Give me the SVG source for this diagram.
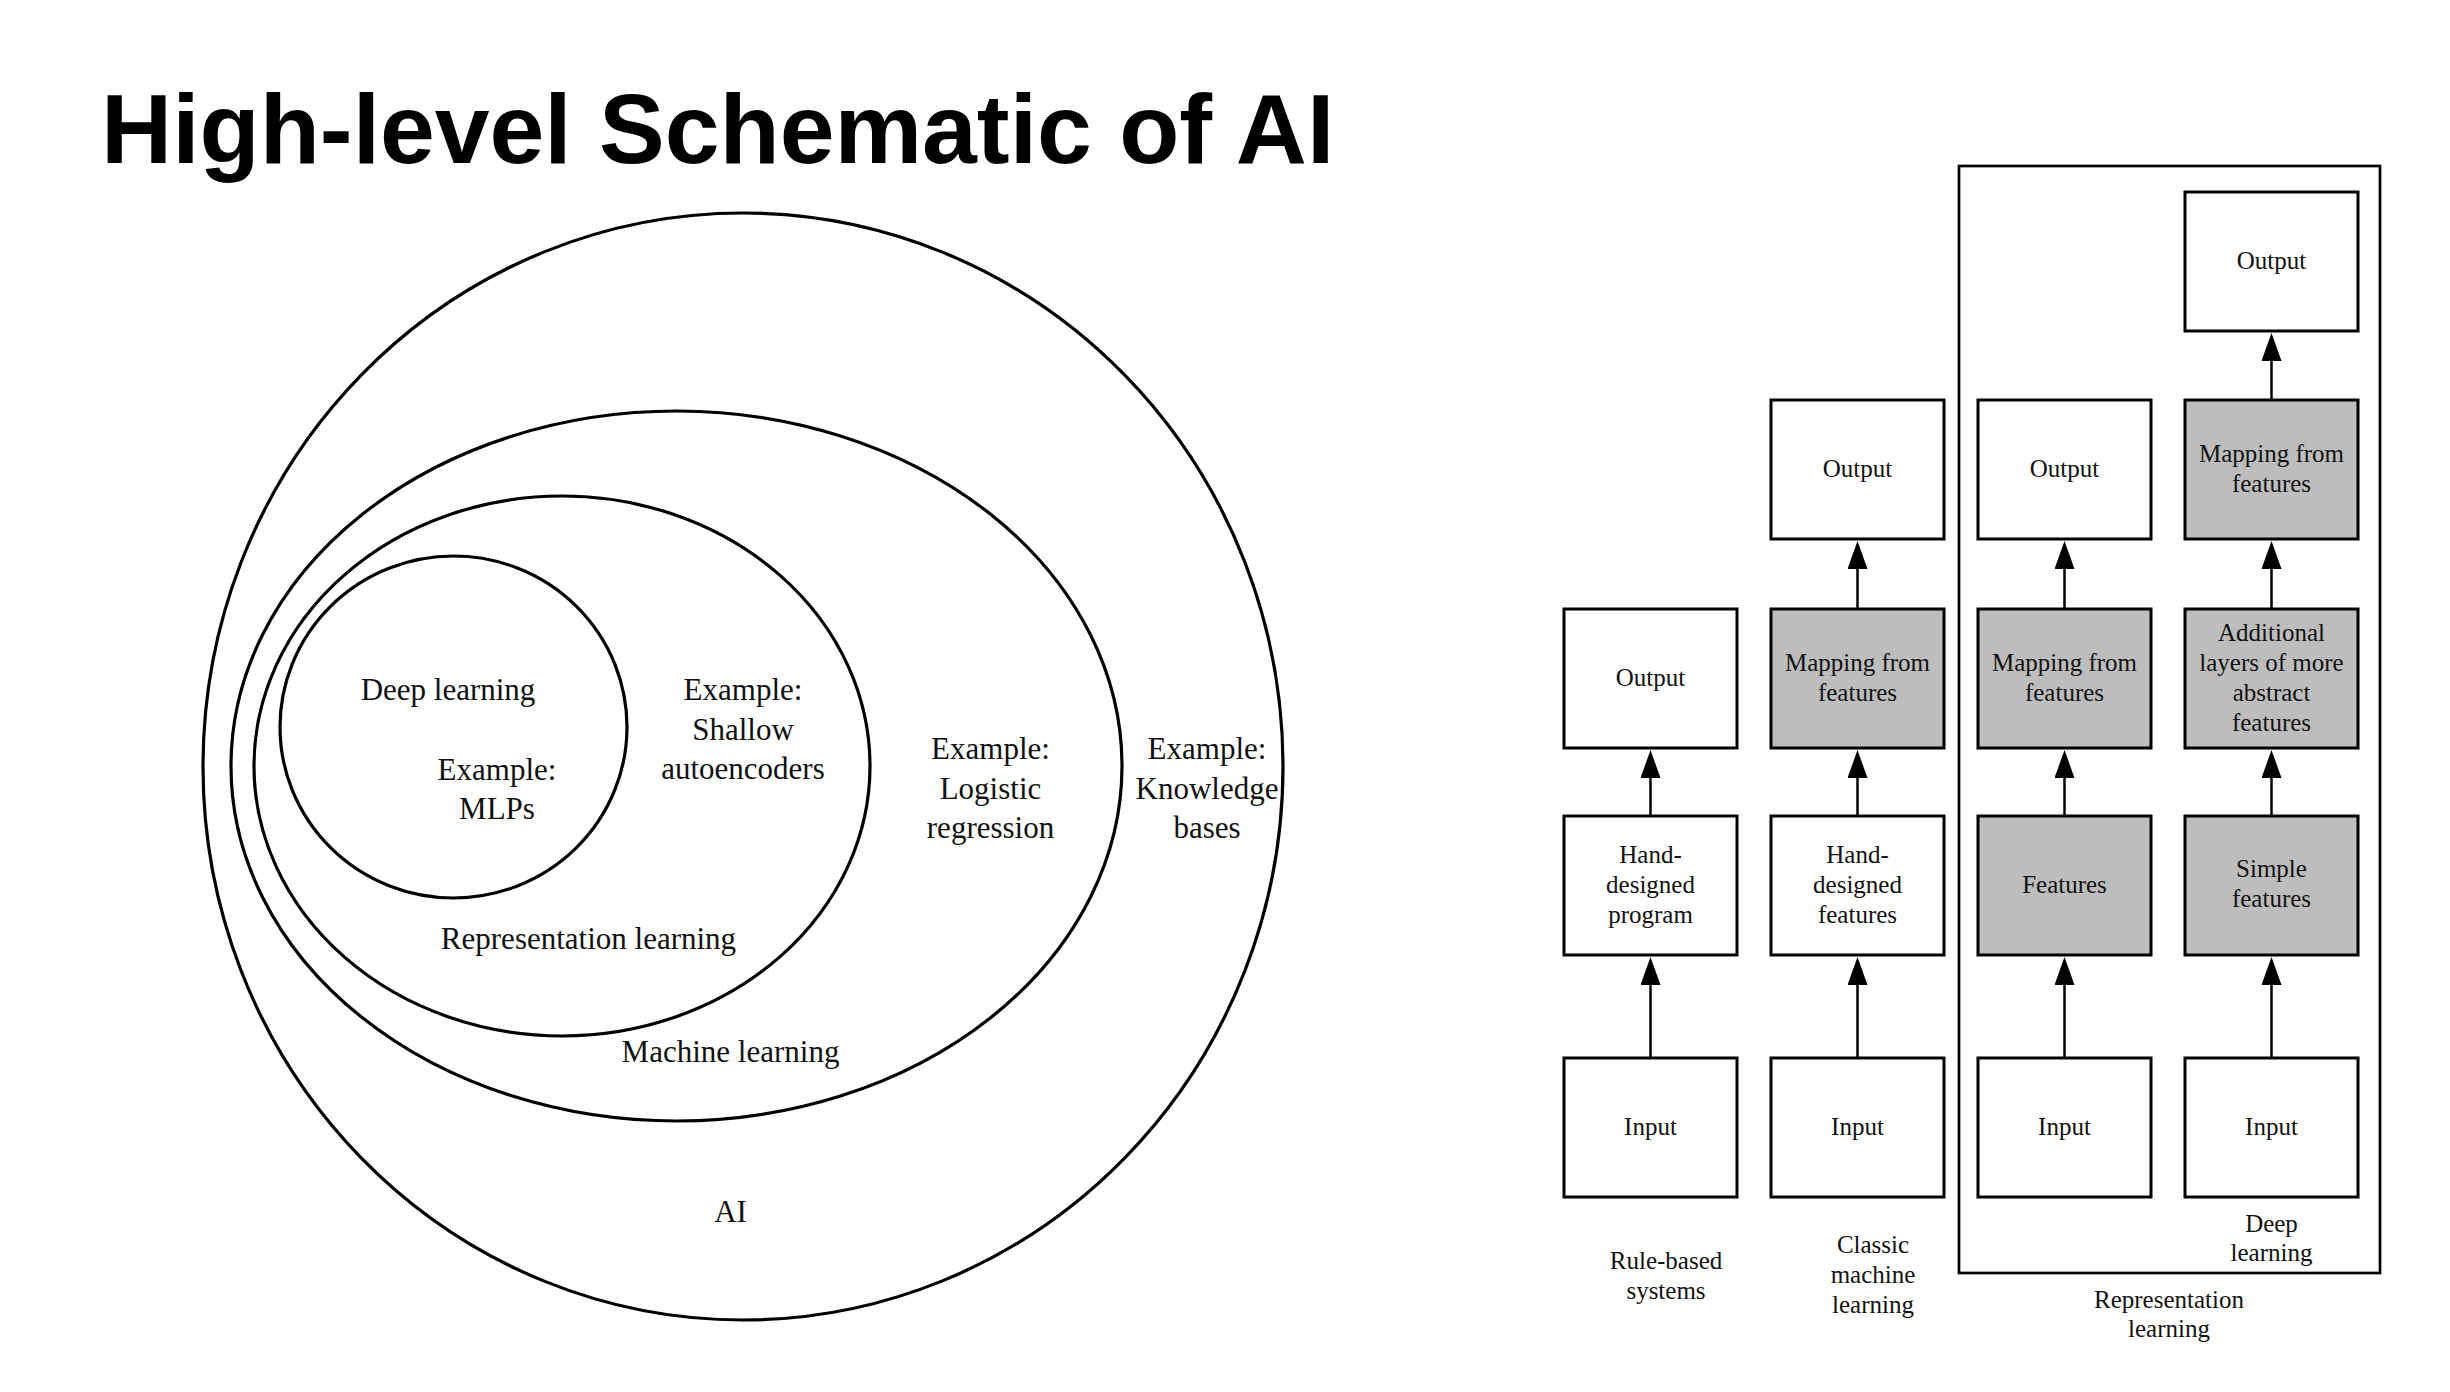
<svg xmlns="http://www.w3.org/2000/svg" width="2450" height="1392" viewBox="0 0 2450 1392">
  <style>
    .title { font-family: "Liberation Sans", Arial, sans-serif; font-weight: bold; font-size: 98.5px; fill: #000; }
    .ring { fill: none; stroke: #000; stroke-width: 3.2; }
    .lbl { font-family: "Liberation Serif", "Times New Roman", serif; font-size: 31px; fill: #111; text-anchor: middle; }
    .box { fill: #fff; stroke: #000; stroke-width: 3; }
    .box.learned { fill: #bdbdbd; }
    .txt { font-family: "Liberation Serif", "Times New Roman", serif; font-size: 25px; fill: #111; text-anchor: middle; }
    .frame { fill: none; stroke: #000; stroke-width: 2.7; }
    .edge { stroke: #000; stroke-width: 2.5; fill: none; marker-end: url(#head); }
  </style>
  <defs>
    <marker id="head" viewBox="0 0 28 20" refX="0" refY="10" markerWidth="28" markerHeight="20" markerUnits="userSpaceOnUse" orient="auto">
      <path d="M0,0 L28,10 L0,20 z" fill="#000"/>
    </marker>
  </defs>

  <rect width="2450" height="1392" fill="#fff"/>

  <text class="title" x="101" y="163">High-level Schematic of AI</text>

  <!-- Nested sets: AI ⊃ machine learning ⊃ representation learning ⊃ deep learning -->
  <g id="set-ai">
    <ellipse class="ring" cx="743" cy="766.5" rx="540" ry="553.5"/>
    <text class="lbl" x="730.5" y="1222">AI</text>
    <text class="lbl" x="1207" y="759">Example:</text>
    <text class="lbl" x="1207" y="799">Knowledge</text>
    <text class="lbl" x="1207" y="838">bases</text>
  </g>
  <g id="set-ml">
    <ellipse class="ring" cx="676.5" cy="766" rx="445.5" ry="355"/>
    <text class="lbl" x="730.5" y="1062">Machine learning</text>
    <text class="lbl" x="990.5" y="759">Example:</text>
    <text class="lbl" x="990.5" y="799">Logistic</text>
    <text class="lbl" x="990.5" y="838">regression</text>
  </g>
  <g id="set-repr">
    <ellipse class="ring" cx="562" cy="766" rx="308" ry="270"/>
    <text class="lbl" x="588.5" y="949">Representation learning</text>
    <text class="lbl" x="743" y="700">Example:</text>
    <text class="lbl" x="743" y="740">Shallow</text>
    <text class="lbl" x="743" y="779">autoencoders</text>
  </g>
  <g id="set-dl">
    <ellipse class="ring" cx="453.5" cy="727" rx="173.5" ry="171"/>
    <text class="lbl" x="448" y="700">Deep learning</text>
    <text class="lbl" x="497" y="780">Example:</text>
    <text class="lbl" x="497" y="819">MLPs</text>
  </g>

  <!-- Representation learning frame -->
  <g id="repr-frame">
    <rect class="frame" x="1959" y="166" width="421" height="1107"/>
    <text class="txt" x="2169" y="1308">Representation</text>
    <text class="txt" x="2169" y="1337">learning</text>
  </g>

  <!-- Column 1: rule-based systems -->
  <g id="rb-input"><rect class="box" x="1564" y="1058" width="173" height="139"/><text class="txt" x="1650.5" y="1134.5">Input</text></g>
  <g id="rb-program"><rect class="box" x="1564" y="816" width="173" height="139"/>
    <text class="txt" x="1650.5" y="862.5">Hand-</text><text class="txt" x="1650.5" y="892.5">designed</text><text class="txt" x="1650.5" y="922.5">program</text></g>
  <g id="rb-output"><rect class="box" x="1564" y="609" width="173" height="139"/><text class="txt" x="1650.5" y="685.5">Output</text></g>
  <g id="rb-label"><text class="txt" x="1666" y="1269">Rule-based</text><text class="txt" x="1666" y="1299">systems</text></g>

  <!-- Column 2: classic machine learning -->
  <g id="cml-input"><rect class="box" x="1771" y="1058" width="173" height="139"/><text class="txt" x="1857.5" y="1134.5">Input</text></g>
  <g id="cml-features"><rect class="box" x="1771" y="816" width="173" height="139"/>
    <text class="txt" x="1857.5" y="862.5">Hand-</text><text class="txt" x="1857.5" y="892.5">designed</text><text class="txt" x="1857.5" y="922.5">features</text></g>
  <g id="cml-mapping"><rect class="box learned" x="1771" y="609" width="173" height="139"/>
    <text class="txt" x="1857.5" y="670.5">Mapping from</text><text class="txt" x="1857.5" y="700.5">features</text></g>
  <g id="cml-output"><rect class="box" x="1771" y="400" width="173" height="139"/><text class="txt" x="1857.5" y="476.5">Output</text></g>
  <g id="cml-label"><text class="txt" x="1873" y="1253">Classic</text><text class="txt" x="1873" y="1283">machine</text><text class="txt" x="1873" y="1313">learning</text></g>

  <!-- Column 3: representation learning -->
  <g id="rl-input"><rect class="box" x="1978" y="1058" width="173" height="139"/><text class="txt" x="2064.5" y="1134.5">Input</text></g>
  <g id="rl-features"><rect class="box learned" x="1978" y="816" width="173" height="139"/><text class="txt" x="2064.5" y="892.5">Features</text></g>
  <g id="rl-mapping"><rect class="box learned" x="1978" y="609" width="173" height="139"/>
    <text class="txt" x="2064.5" y="670.5">Mapping from</text><text class="txt" x="2064.5" y="700.5">features</text></g>
  <g id="rl-output"><rect class="box" x="1978" y="400" width="173" height="139"/><text class="txt" x="2064.5" y="476.5">Output</text></g>

  <!-- Column 4: deep learning -->
  <g id="dl-input"><rect class="box" x="2185" y="1058" width="173" height="139"/><text class="txt" x="2271.5" y="1134.5">Input</text></g>
  <g id="dl-simple"><rect class="box learned" x="2185" y="816" width="173" height="139"/>
    <text class="txt" x="2271.5" y="876.5">Simple</text><text class="txt" x="2271.5" y="906.5">features</text></g>
  <g id="dl-abstract"><rect class="box learned" x="2185" y="609" width="173" height="139"/>
    <text class="txt" x="2271.5" y="640.5">Additional</text><text class="txt" x="2271.5" y="670.5">layers of more</text>
    <text class="txt" x="2271.5" y="700.5">abstract</text><text class="txt" x="2271.5" y="730.5">features</text></g>
  <g id="dl-mapping"><rect class="box learned" x="2185" y="400" width="173" height="139"/>
    <text class="txt" x="2271.5" y="461.5">Mapping from</text><text class="txt" x="2271.5" y="491.5">features</text></g>
  <g id="dl-output"><rect class="box" x="2185" y="192" width="173" height="139"/><text class="txt" x="2271.5" y="268.5">Output</text></g>
  <g id="dl-label"><text class="txt" x="2271.5" y="1232">Deep</text><text class="txt" x="2271.5" y="1261">learning</text></g>

  <!-- Connectors: each line stops at the arrowhead base, the marker adds the tip -->
  <g id="connectors">
    <line class="edge" x1="1650.5" y1="1058" x2="1650.5" y2="985"/>
    <line class="edge" x1="1650.5" y1="816" x2="1650.5" y2="778"/>

    <line class="edge" x1="1857.5" y1="1058" x2="1857.5" y2="985"/>
    <line class="edge" x1="1857.5" y1="816" x2="1857.5" y2="778"/>
    <line class="edge" x1="1857.5" y1="609" x2="1857.5" y2="569"/>

    <line class="edge" x1="2064.5" y1="1058" x2="2064.5" y2="985"/>
    <line class="edge" x1="2064.5" y1="816" x2="2064.5" y2="778"/>
    <line class="edge" x1="2064.5" y1="609" x2="2064.5" y2="569"/>

    <line class="edge" x1="2271.5" y1="1058" x2="2271.5" y2="985"/>
    <line class="edge" x1="2271.5" y1="816" x2="2271.5" y2="778"/>
    <line class="edge" x1="2271.5" y1="609" x2="2271.5" y2="569"/>
    <line class="edge" x1="2271.5" y1="400" x2="2271.5" y2="361"/>
  </g>
</svg>
